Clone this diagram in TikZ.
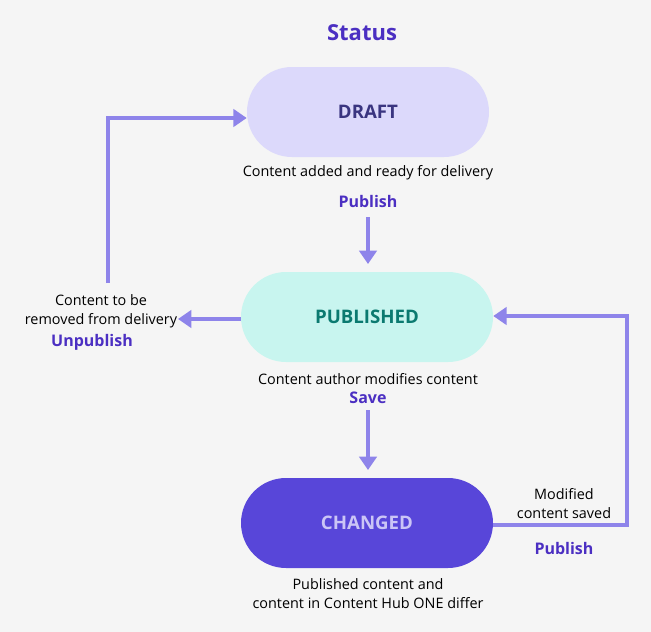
\documentclass[tikz,border=0pt]{standalone}
\usepackage{fontspec}
\setmainfont{Open Sans}
\usetikzlibrary{arrows.meta}
\definecolor{bg}{HTML}{F5F5F5}
\definecolor{ttl}{HTML}{4B2FC2}
\definecolor{arr}{HTML}{8E84EA}
\definecolor{dfill}{HTML}{DCD9FB}
\definecolor{dtext}{HTML}{3A3580}
\definecolor{pfill}{HTML}{C8F5EF}
\definecolor{ptext}{HTML}{0B7A70}
\definecolor{cfill}{HTML}{5846D9}
\definecolor{ctext}{HTML}{CBC5F6}
\begin{document}
\begin{tikzpicture}[x=0.75pt,y=-0.75pt,
  pill/.style={rounded corners=33.75pt,minimum width=189pt,minimum height=67.5pt,font=\fontsize{14}{16}\selectfont\bfseries,inner sep=0},
  lbl/.style={font=\fontsize{10.8}{14.2}\selectfont,align=center,inner sep=0},
  act/.style={font=\fontsize{12}{14}\selectfont\bfseries,text=ttl,inner sep=0},
  conn/.style={draw=arr,line width=2.6pt,-{Triangle[length=10pt,width=13pt]}}]
\fill[bg] (0,0) rectangle (651,632);
\useasboundingbox (0,0) rectangle (651,632);
\node[font=\fontsize{16.5}{20}\selectfont\bfseries,text=ttl] (title) at (362,33) {Status};
\node[pill,fill=dfill,text=dtext,minimum width=181.5pt] (draft) at (368,112) {DRAFT};
\node[pill,fill=pfill,text=ptext] (pub) at (367,317) {PUBLISHED};
\node[pill,fill=cfill,text=ctext] (chg) at (367,523) {CHANGED};
\node[lbl] (t1) at (368,173) {Content added and ready for delivery};
\node[act] (a1) at (368,201) {Publish};
\node[lbl] (t2) at (368,379) {Content author modifies content};
\node[act] (a2) at (368,398) {Save};
\node[lbl] (t3) at (368,594) {Published content and\\content in Content Hub ONE differ};
\node[lbl] (t4) at (101,311) {Content to be\\removed from delivery};
\node[act] (a4) at (92,342) {Unpublish};
\node[lbl] (t5) at (564,504) {Modified\\content saved};
\node[act] (a5) at (564,548) {Publish};
\coordinate (s1) at (368,217);
\coordinate (e1) at (368,264);
\coordinate (s2) at (368,410);
\coordinate (e2) at (368,470);
\draw[conn] (s1) -- (e1);
\draw[conn] (s2) -- (e2);
\coordinate (lp) at (178,319);
\draw[conn] (pub.west |- lp) -- (lp);
\coordinate (lb) at (108,283);
\coordinate (lt) at (108,118);
\draw[conn] (lb) -- (lt) -- (draft.west |- lt);
\coordinate (rb) at (627,525);
\coordinate (rt) at (627,316);
\draw[conn] (chg.east |- rb) -- (rb) -- (rt) -- (pub.east |- rt);
\end{tikzpicture}
\end{document}
